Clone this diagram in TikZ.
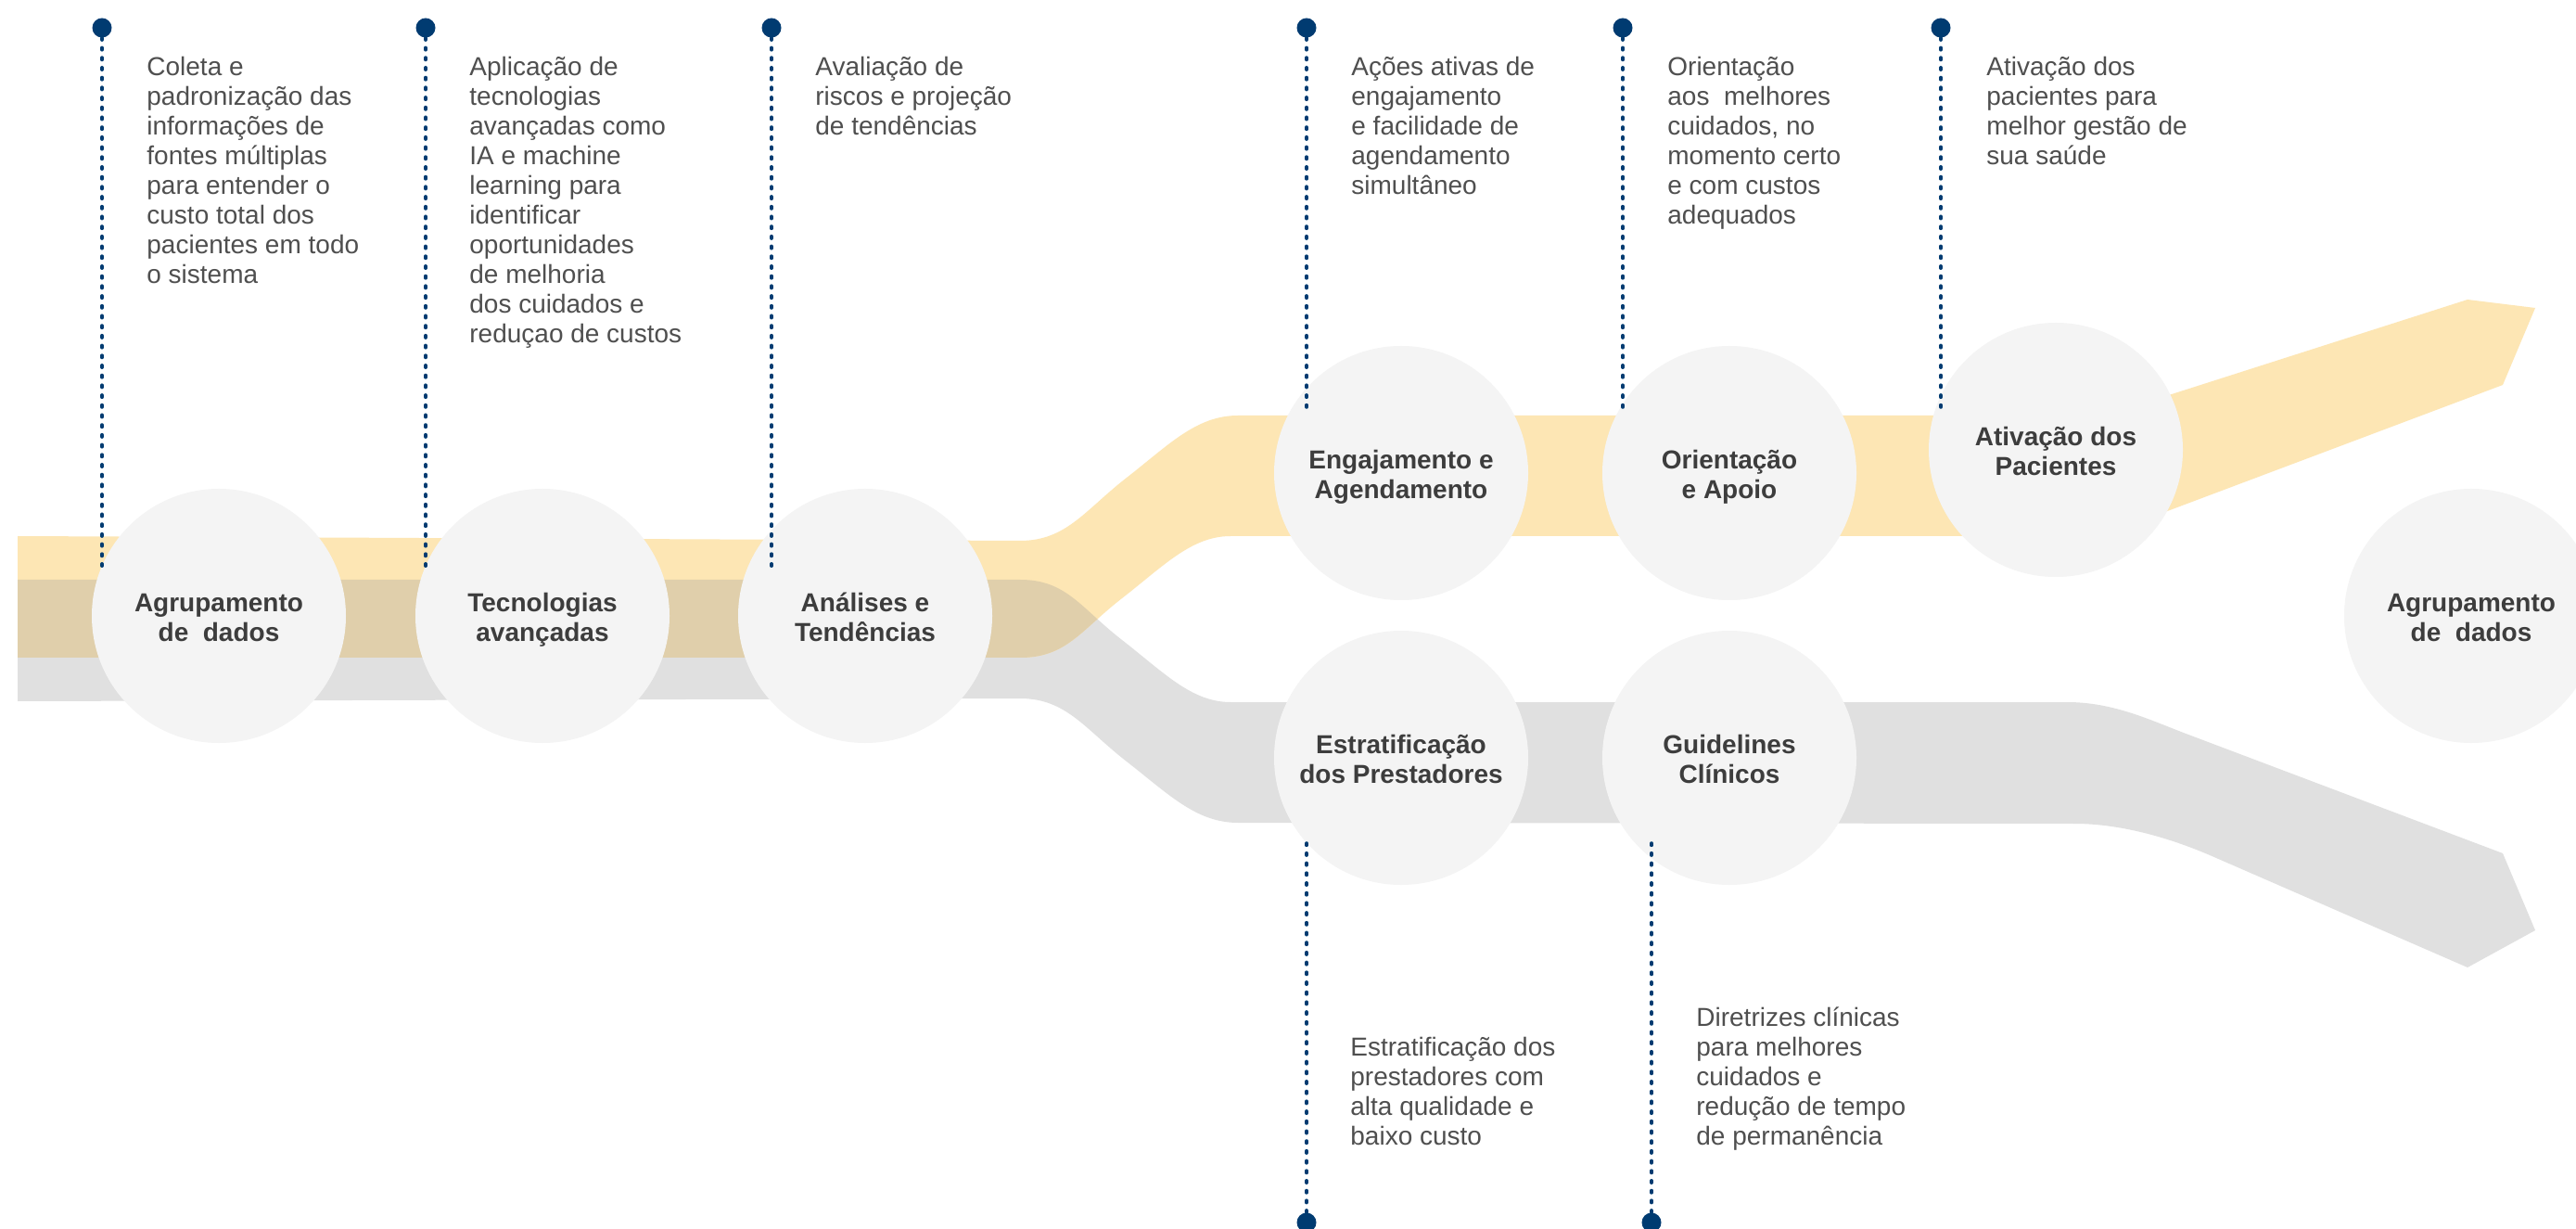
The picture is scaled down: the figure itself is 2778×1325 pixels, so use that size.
\documentclass[tikz,border=0pt]{standalone}
\usepackage{fontspec}
\setmainfont{Liberation Sans}
\definecolor{ylw}{HTML}{FDE6B4}
\definecolor{gry}{HTML}{E0E0E0}
\definecolor{bandtan}{HTML}{E0CFAB}
\definecolor{bubcol}{HTML}{F4F4F4}
\definecolor{navy}{HTML}{003B71}
\definecolor{txtcol}{HTML}{4F4F4F}
\definecolor{labcol}{HTML}{3D3D3D}
\tikzset{
  bubble/.style={circle, fill=bubcol, minimum size=137pt, inner sep=0pt},
  blabel/.style={anchor=base, inner sep=0pt, font=\bfseries\fontsize{14}{16}\selectfont, text=labcol},
  desc/.style={anchor=base west, inner sep=0pt, font=\fontsize{14}{16}\selectfont, text=txtcol},
  pin/.style={circle, fill=navy, minimum size=10.5pt, inner sep=0pt},
  lead/.style={navy, line width=2pt, dash pattern=on 1pt off 4.35pt, line cap=round}
}
\newcommand{\ypathband}{(19,578) -- (1100,583) .. controls (1150,583) and (1170,550) .. (1215,515) .. controls (1260,480) and (1290,448) .. (1335,448) -- (2230,448) .. controls (2270,448) and (2300,438.5) .. (2342,425) -- (2661,323) -- (2734,332) -- (2699,415) -- (2340,550) .. controls (2300,565) and (2275,578) .. (2237,578) -- (1327,578) .. controls (1285,578) and (1255,610) .. (1210,645) .. controls (1165,680) and (1150,709) .. (1100,709) -- (19,709) -- cycle}
\newcommand{\gpathband}{(19,625) -- (1100,625) .. controls (1150,625) and (1165,655) .. (1210,690) .. controls (1255,725) and (1285,757) .. (1327,757) -- (2229,757) .. controls (2280,757) and (2320,777) .. (2360,792) -- (2699,920) -- (2734,1003) -- (2661,1043) -- (2390,925) .. controls (2345,905) and (2290,888) .. (2237,888) -- (1335,887) .. controls (1290,887) and (1260,856) .. (1215,821) .. controls (1170,786) and (1150,753) .. (1100,753) -- (19,756) -- cycle}
\newcommand{\lines}[1]{\begin{tabular}[t]{@{}l@{}}#1\end{tabular}}
\newcommand{\clines}[1]{\begin{tabular}[t]{@{}c@{}}#1\end{tabular}}
\begin{document}
\begin{tikzpicture}[x=0.5pt, y=-0.5pt]
\useasboundingbox (0,0) rectangle (2778,1325);
\fill[white] (0,0) rectangle (2778,1325);
% bands
\fill[gry] \gpathband;
\fill[ylw] \ypathband;
\begin{scope}
  \clip \ypathband;
  \fill[bandtan] \gpathband;
\end{scope}
% bubbles
\node[bubble] (c1) at (236,664) {};
\node[bubble] (c2) at (585,664) {};
\node[bubble] (c3) at (933,664) {};
\node[bubble] (c4) at (1511,510) {};
\node[bubble] (c5) at (1865,510) {};
\node[bubble] (c6) at (2217,485) {};
\node[bubble] (c7) at (1511,817) {};
\node[bubble] (c8) at (1865,817) {};
\node[bubble] (c9) at (2665,664) {};
\node[blabel] (l1) at (236,659.5) {\clines{Agrupamento\\de\ \ dados}};
\node[blabel] (l2) at (585,659.5) {\clines{Tecnologias\\avançadas}};
\node[blabel] (l3) at (933,659.5) {\clines{Análises e\\Tendências}};
\node[blabel] (l4) at (1511,505.5) {\clines{Engajamento e\\Agendamento}};
\node[blabel] (l5) at (1865,505.5) {\clines{Orientação\\e Apoio}};
\node[blabel] (l6) at (2217,480.5) {\clines{Ativação dos\\Pacientes}};
\node[blabel] (l7) at (1511,812.5) {\clines{Estratificação\\dos Prestadores}};
\node[blabel] (l8) at (1865,812.5) {\clines{Guidelines\\Clínicos}};
\node[blabel] (l9) at (2665,659.5) {\clines{Agrupamento\\de\ \ dados}};
% pins and leaders
\node[pin] (p1) at (110,30) {};
\node[pin] (p2) at (459,30) {};
\node[pin] (p3) at (832,30) {};
\node[pin] (p4) at (1409,30) {};
\node[pin] (p5) at (1750,30) {};
\node[pin] (p6) at (2093,30) {};
\node[pin] (q1) at (1409,1318) {};
\node[pin] (q2) at (1781,1318) {};
\coordinate (e1) at (110,613);
\coordinate (e2) at (459,613);
\coordinate (e3) at (832,613);
\coordinate (e4) at (1409,445);
\coordinate (e5) at (1750,445);
\coordinate (e6) at (2093,445);
\coordinate (s1) at (1409,903);
\coordinate (s2) at (1781,903);
\foreach \a/\b in {p1/e1,p2/e2,p3/e3,p4/e4,p5/e5,p6/e6,q1/s1,q2/s2}
  \draw[lead] (\a) -- (\b);
% descriptions
\node[desc] (t1) at (158,82) {\lines{Coleta e\\padronização das\\informações de\\fontes múltiplas\\para entender o\\custo total dos\\pacientes em todo\\o sistema}};
\node[desc] (t2) at (506,82) {\lines{Aplicação de\\tecnologias\\avançadas como\\IA e machine\\learning para\\identificar\\oportunidades\\de melhoria\\dos cuidados e\\reduçao de custos}};
\node[desc] (t3) at (879,82) {\lines{Avaliação de\\riscos e projeção\\de tendências}};
\node[desc] (t4) at (1457,82) {\lines{Ações ativas de\\engajamento\\e facilidade de\\agendamento\\simultâneo}};
\node[desc] (t5) at (1798,82) {\lines{Orientação\\aos\ \ melhores\\cuidados, no\\momento certo\\e com custos\\adequados}};
\node[desc] (t6) at (2142,82) {\lines{Ativação dos\\pacientes para\\melhor gestão de\\sua saúde}};
\node[desc] (b1) at (1456,1138) {\lines{Estratificação dos\\prestadores com\\alta qualidade e\\baixo custo}};
\node[desc] (b2) at (1829,1106) {\lines{Diretrizes clínicas\\para melhores\\cuidados e\\redução de tempo\\de permanência}};
\end{tikzpicture}
\end{document}
